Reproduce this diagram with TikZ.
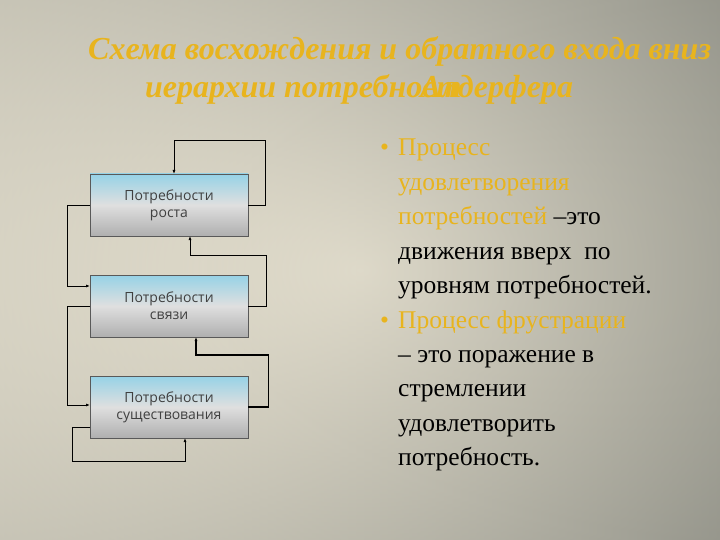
\documentclass[tikz,border=0pt]{standalone}
\usepackage{fontspec}
\setmainfont{Liberation Serif}
\newfontfamily\boxfont{Open Sans}
\usetikzlibrary{arrows.meta}
\definecolor{gold}{RGB}{232,180,30}
\definecolor{bgl}{RGB}{246,240,222}
\definecolor{bgd}{RGB}{150,150,140}
\definecolor{boxtop}{RGB}{150,210,230}
\definecolor{boxbot}{RGB}{175,175,175}
\begin{document}
\begin{tikzpicture}[x=1pt,y=-1pt,
  bx/.style={draw=gray!70!black,line width=0.6pt,minimum width=158pt,minimum height=62pt,top color=boxtop,bottom color=boxbot,middle color=gray!25,font=\boxfont\fontsize{14}{17}\selectfont,text=black!75,align=center,inner sep=0pt},
  ln/.style={line width=0.9pt,-{Latex[length=4pt,width=3pt]}},
  body/.style={anchor=base west,font=\fontsize{25.5}{24}\selectfont,inner sep=0pt},
  ttl/.style={font=\bfseries\itshape\fontsize{32}{32}\selectfont,text=gold,inner sep=0pt,anchor=base west}]
\useasboundingbox (0,0) rectangle (720,540);
\shade[outer color=bgd,inner color=bgl] (-200,-100) rectangle (920,640);
\shade[left color=bgl,right color=bgd,opacity=0.5] (0,0) rectangle (720,540);
% title
\node[ttl] (t1) at (88,60) {Схема восхождения и обратного входа вниз};
\node[ttl] (t2) at (145,98) {иерархии потребност};
\node[ttl] (t3) at (420,98) {Алдерфера};
% boxes
\node[bx] (b1) at (169,205) {Потребности\\роста};
\node[bx] (b2) at (169,306) {Потребности\\связи};
\node[bx] (b3) at (169,407) {Потребности\\существования};
% helper coordinates
\coordinate (a1) at (174,174);
\coordinate (a2) at (90,286);
\coordinate (a3) at (190,236);
\coordinate (a4) at (90,405);
\coordinate (a5) at (196,337);
\coordinate (a6) at (185,438);
\coordinate (s6) at (90,427);
% connectors
\draw[ln] (b1.east) -- ++(17,0) |- (174,140) -- (a1);
\draw[ln] (b1.west) -- ++(-22,0) |- (a2);
\draw[ln] (b2.east) -- ++(18,0) |- (190,255) -- (a3);
\draw[ln] (b2.west) -- ++(-22,0) |- (a4);
\draw[ln,line width=1.6pt] (b3.east) -- ++(20,0) |- (196,355) -- (a5);
\draw[ln] (s6) -- ++(-18,0) |- (185,461) -- (a6);
% text
\node[body,text=gold] (d1) at (380,156) {•};
\node[body,text=gold] (l1) at (398,156) {Процесс};
\node[body,text=gold] (l2) at (398,191) {удовлетворения};
\node[body] (l3) at (398,225) {\textcolor{gold}{потребностей} –это};
\node[body] (l4) at (398,259) {движения вверх\ \ по};
\node[body] (l5) at (398,293) {уровням потребностей.};
\node[body,text=gold] (d2) at (380,328) {•};
\node[body,text=gold] (l6) at (398,328) {Процесс фрустрации};
\node[body] (l7) at (398,362) {– это поражение в};
\node[body] (l8) at (398,396) {стремлении};
\node[body] (l9) at (398,431) {удовлетворить};
\node[body] (l10) at (398,465) {потребность.};
\end{tikzpicture}
\end{document}
